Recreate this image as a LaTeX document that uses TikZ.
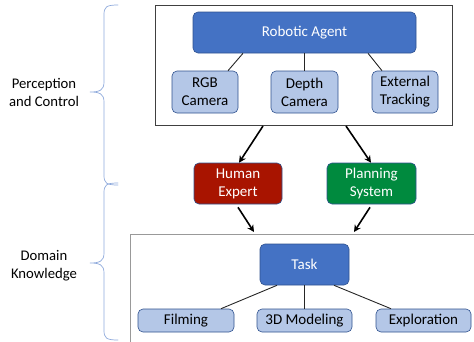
\documentclass[tikz,border=0pt]{standalone}
\usepackage{fontspec}
\setmainfont{Carlito}
\usetikzlibrary{arrows.meta}
\definecolor{darkblue}{HTML}{4472C4}
\definecolor{lightblue}{HTML}{B4C7E7}
\definecolor{edgeblue}{HTML}{2F528F}
\definecolor{redfill}{HTML}{A81400}
\definecolor{greenfill}{HTML}{008A3E}
\definecolor{bracecol}{HTML}{8FAADC}
\tikzset{
  box/.style={draw=edgeblue, line width=0.6pt, rounded corners=5pt, inner sep=0pt, align=center, font=\fontsize{15}{18}\selectfont},
  mainbox/.style={box, fill=darkblue, text=white},
  subbox/.style={box, fill=lightblue, text=black},
  link/.style={draw=black!85, line width=0.9pt},
  arr/.style={draw=black, line width=1.6pt, -{Stealth[length=7pt,width=7pt]}},
  sidetext/.style={align=center, font=\fontsize{14.7}{18}\selectfont},
  bracestyle/.style={draw=bracecol, line width=0.7pt, line cap=round}
}
\begin{document}
\begin{tikzpicture}[x=1pt,y=-1pt]
\useasboundingbox (0,0) rectangle (474,341);
% frames
\draw[draw=black!75, line width=0.7pt] (155,5) rectangle (452,125);
\draw[draw=black!40, line width=1pt] (130,345) -- (130,234) -- (480,234);
% top nodes
\node[mainbox, minimum width=223pt, minimum height=41pt] (agent) at (304.5,32.5) {Robotic Agent};
\node[subbox, minimum width=66pt, minimum height=42pt] (rgb) at (205,92) {RGB\\Camera};
\node[subbox, minimum width=67pt, minimum height=42pt] (depth) at (304.5,92) {Depth\\Camera};
\node[subbox, minimum width=66pt, minimum height=42pt] (ext) at (405,92) {External\\Tracking};
\draw[link] (agent.south -| 243,0) -- (rgb.north -| 228,0);
\draw[link] (agent.south) -- (depth.north);
\draw[link] (agent.south -| 368,0) -- (ext.north -| 382,0);
% middle nodes
\node[box, fill=redfill, text=white, minimum width=88pt, minimum height=41pt] (human) at (238,183.5) {Human\\Expert};
\node[box, fill=greenfill, text=white, minimum width=89pt, minimum height=41pt] (plan) at (371.5,183.5) {Planning\\System};
\coordinate (t1) at (263,126);
\coordinate (t2) at (346,126);
\coordinate (b1) at (254,232);
\coordinate (b2) at (354,232);
\draw[arr] (t1) -- (human.north -| 239,0);
\draw[arr] (t2) -- (plan.north -| 371,0);
\draw[arr] (human.south -| 238,0) ++(0,3) -- (b1);
\draw[arr] (plan.south -| 370,0) ++(0,3) -- (b2);
% bottom nodes
\node[mainbox, minimum width=89pt, minimum height=41pt] (task) at (304.5,264.5) {Task};
\node[subbox, minimum width=96pt, minimum height=23pt] (film) at (186,320.5) {Filming};
\node[subbox, minimum width=95pt, minimum height=23pt] (model) at (304.5,320.5) {3D Modeling};
\node[subbox, minimum width=95pt, minimum height=23pt] (explo) at (423.5,320.5) {Exploration};
\draw[link] (task.south -| 277,0) -- (film.north -| 221,0);
\draw[link] (task.south) -- (model.north);
\draw[link] (task.south -| 334,0) -- (explo.north -| 391,0);
% braces
\draw[bracestyle] (118,5) .. controls (106,5) and (104,7) .. (104,15) -- (104,82) .. controls (104,90) and (100,92) .. (90,92) .. controls (100,92) and (104,94) .. (104,102) -- (104,175) .. controls (104,183) and (106,185) .. (118,185);
\draw[bracestyle] (118,183) .. controls (106,183) and (104,185) .. (104,193) -- (104,253) .. controls (104,261) and (100,263) .. (90,263) .. controls (100,263) and (104,265) .. (104,273) -- (104,330) .. controls (104,338) and (106,340) .. (118,340);
% side labels
\node[sidetext] (pc) at (44,92) {Perception\\and Control};
\node[sidetext] (dk) at (44,266) {Domain\\Knowledge};
\end{tikzpicture}
\end{document}
